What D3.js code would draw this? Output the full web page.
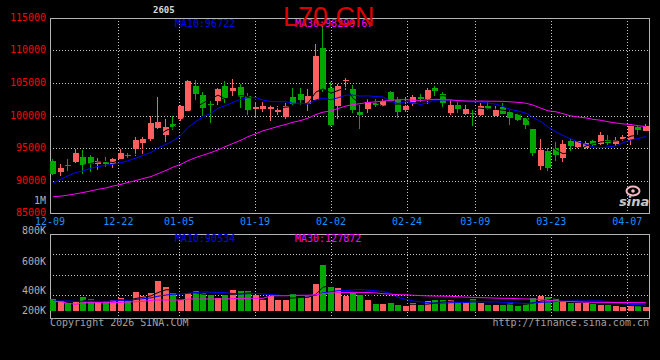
<!DOCTYPE html>
<meta charset="utf-8">
<style>
  body { margin: 0; background: #000; }
  text { font-family: "DejaVu Sans Mono", monospace; font-size: 10px; }
</style>
<body>
<script src="https://cdn.jsdelivr.net/npm/d3@7"></script>
<script>

// daily bars, 12-09 .. 04-09
var opens = [93010,91330,92350,92860,93570,93570,92550,92910,92500,93420,
  93980,94800,95820,96330,98110,96940,98620,99390,100820,104590,
  103170,101750,102260,104590,103680,104440,103020,100990,100940,101040,
  100480,99820,102870,103380,101850,102510,110380,104290,101500,105200,
  104130,100510,100920,101940,101530,103670,102450,100920,101840,102860,
  102600,104280,103370,100510,101680,100310,100410,100150,101530,100050,
  101340,100570,100160,99540,97990,92280,94590,95010,93560,96040,
  95160,95010,96140,95670,96290,95670,96290,96190,98200,97730];
var highs = [93270,92500,93270,94800,94650,93880,93470,93630,93420,94800,
  94290,96740,96630,100000,102810,99390,99900,101580,105510,105510,
  103680,102160,104290,105310,105660,104900,103530,102010,102010,101650,
  101500,101850,104190,104190,104040,110990,113830,105150,104900,105810,
  104740,101580,102550,102600,102600,103830,102810,102810,103210,103370,
  104230,104590,103620,102350,102090,101680,100920,101940,102090,101430,
  101950,100820,100410,99640,97990,96450,95010,95930,96290,96450,
  96140,96040,96290,97430,97070,96700,97070,98460,98460,98760];
var lows = [90820,90720,91480,92660,90970,91330,91640,92100,91890,93270,
  93470,93780,94030,96070,97960,95920,97710,99030,100660,102350,
  99980,98810,101650,101850,103020,101140,100080,99620,100480,99210,
  100130,99470,101650,101650,100640,102460,103680,98450,99470,103880,
  100410,97860,100310,101280,101280,102190,99540,100510,101430,102090,
  101840,102860,101280,100150,100310,100050,98370,100000,100920,100000,
  100160,98610,99130,97990,93720,91660,91400,92950,92790,94590,
  95010,94850,95370,95520,95520,95370,96140,95520,97070,97580];
var closes = [90970,91890,92250,94190,92350,92500,92960,92660,93320,94290,
  93880,96180,96380,98780,98980,98160,98220,101430,105360,103420,
  101140,101600,104140,102610,104190,102870,100840,101350,101450,101350,
  100840,101500,101850,102510,103020,109210,103880,98550,104540,105410,
  100920,100100,102040,101580,102300,102350,100610,101530,102860,102600,
  103980,103880,102040,101680,101070,101070,100260,101530,101070,100920,
  100310,99640,99280,98510,94340,94750,92020,93870,95670,95260,
  96040,95780,95520,97070,95780,96290,96650,98350,97730,98460];
var volumes = [158,138,122,128,178,158,132,135,148,171,
  138,227,191,217,336,277,217,148,217,237,
  214,198,171,194,247,237,237,194,148,188,
  148,148,207,181,188,306,494,280,267,188,
  214,198,148,109,109,119,99,89,115,99,
  138,148,148,148,128,115,158,115,99,99,
  99,128,89,115,168,188,174,168,128,122,
  115,115,109,99,99,89,82,95,89,82].map(function(v) { return v * 1000; });

// averages before the window starts
var ma10Head = [89600,90210,90720,91230,91480,91890,92150,92350,92500];
var ma30Head = [87500,87600,87750,87950,88150,88400,88650,88850,89150,89400,
  89700,90000,90300,90600,91050,91550,92050,92500,93050,93550,
  93900,94300,94700,95200,95700,96200,96750,97200,97650];
var volMa10Head = [138000,138000,138000,135000,135000,135000,135000,135000,138000];
var volMa30Head = [132000,132000,115000,105000,122000,122000,122000,122000,122000,125000,
  128000,132000,135000,145000,148000,148000,148000,148000,158000,158000,
  158000,158000,158000,158000,161000,165000,165000,165000,165000];

var dateLabels = ["12-09","12-22","01-05","01-19","02-02","02-24","03-09","03-23","04-07"];
var dateIndex = [0,9,17,27,37,47,56,66,76];
var priceTicks = [115000,110000,105000,100000,95000,90000,85000];
var volTicks = ["800K","600K","400K","200K"];
var legendPrice = ["MA10:96722", "MA30:98299.67"];
var legendVol = ["MA10:90534", "MA30:127872"];

var red = "#ff5f5f", green = "#00a800";
var gridColor = "#c8c8c8";

var left = 50, right = 650;
var priceTop = 18, priceBottom = 213;
var volTop = 234, volBottom = 318;

var svg = d3.select("body").append("svg")
  .attr("width", 660)
  .attr("height", 360);

svg.append("rect").attr("width", 660).attr("height", 360).attr("fill", "#000");

var cx = d3.scaleLinear().domain([0, closes.length]).range([left, right]);
var dx = d3.scaleLinear().domain([0, 79]).range([left, right]);
var y = d3.scaleLinear().domain([85000, 115000]).range([priceBottom, priceTop]);
var vy = d3.scaleLinear().domain([0, 800000]).range([315, volTop]);
var volBase = vy(0) - 4;

function movingAvg(values, n, head) {
  return values.map(function(v, i) {
    if (i < n - 1) return head ? head[i] : null;
    return d3.mean(values.slice(i - n + 1, i + 1));
  });
}

var ma5 = movingAvg(closes, 5), ma10 = movingAvg(closes, 10, ma10Head), ma30 = movingAvg(closes, 30, ma30Head);
var vma5 = movingAvg(volumes, 5), vma10 = movingAvg(volumes, 10, volMa10Head), vma30 = movingAvg(volumes, 30, volMa30Head);

function px(i) { return Math.round(cx(i)); }
function isUp(i) { return closes[i] >= opens[i]; }

// grid
var grid = svg.append("g")
  .attr("stroke", gridColor)
  .attr("stroke-dasharray", "1,2")
  .attr("shape-rendering", "crispEdges");

grid.selectAll("line.h")
  .data(priceTicks.slice(1, -1))
  .enter().append("line")
  .attr("x1", left).attr("x2", right)
  .attr("y1", function(d) { return Math.round(y(d)) + 0.5; })
  .attr("y2", function(d) { return Math.round(y(d)) + 0.5; });

grid.selectAll("line.vh")
  .data([600000, 400000, 200000])
  .enter().append("line")
  .attr("x1", left).attr("x2", right)
  .attr("y1", function(d) { return Math.round(vy(d)) + 0.5; })
  .attr("y2", function(d) { return Math.round(vy(d)) + 0.5; });

dateIndex.slice(1).forEach(function(k) {
  var x = Math.round(dx(k)) + 0.5;
  grid.append("line").attr("x1", x).attr("x2", x).attr("y1", priceTop).attr("y2", priceBottom);
  grid.append("line").attr("x1", x).attr("x2", x).attr("y1", volTop).attr("y2", volBottom);
});

// panel frames
svg.append("rect")
  .attr("x", left + 0.5).attr("y", priceTop + 0.5)
  .attr("width", right - left - 1).attr("height", priceBottom - priceTop)
  .attr("fill", "none").attr("stroke", "#b4b4b4");
svg.append("rect")
  .attr("x", left + 0.5).attr("y", volTop + 0.5)
  .attr("width", right - left - 1).attr("height", volBottom - volTop)
  .attr("fill", "none").attr("stroke", "#b4b4b4");

// candles
var candles = svg.append("g").attr("shape-rendering", "crispEdges");
candles.selectAll("line")
  .data(closes)
  .enter().append("line")
  .attr("x1", function(d, i) { return px(i) + 2.5; })
  .attr("x2", function(d, i) { return px(i) + 2.5; })
  .attr("y1", function(d, i) { return Math.round(y(highs[i])); })
  .attr("y2", function(d, i) { return Math.round(y(lows[i])); })
  .attr("stroke", function(d, i) { return isUp(i) ? red : green; });

candles.selectAll("rect")
  .data(closes)
  .enter().append("rect")
  .attr("x", function(d, i) { return px(i); })
  .attr("width", 6)
  .attr("y", function(d, i) { return Math.round(y(Math.max(opens[i], d))); })
  .attr("height", function(d, i) { return Math.max(1, Math.round(Math.abs(y(opens[i]) - y(d)))); })
  .attr("fill", function(d, i) { return isUp(i) ? red : green; });

// volume bars
svg.append("g").attr("shape-rendering", "crispEdges")
  .selectAll("rect")
  .data(volumes)
  .enter().append("rect")
  .attr("x", function(d, i) { return px(i); })
  .attr("width", 6)
  .attr("y", function(d) { return Math.round(vy(d)); })
  .attr("height", function(d) { return volBase - Math.round(vy(d)); })
  .attr("fill", function(d, i) { return isUp(i) ? red : green; });

// average lines
function drawLine(values, scale, color) {
  var line = d3.line()
    .defined(function(d) { return d != null; })
    .x(function(d, i) { return px(i) + 3; })
    .y(function(d) { return scale(d); });
  svg.append("path")
    .datum(values)
    .attr("d", line)
    .attr("fill", "none")
    .attr("stroke", color)
    .attr("stroke-width", 1);
}
drawLine(ma5, y, "#000");
drawLine(ma10, y, "#0000ff");
drawLine(ma30, y, "#ff00ff");
drawLine(vma5, vy, "#000");
drawLine(vma10, vy, "#0000ff");
drawLine(vma30, vy, "#ff00ff");

// price axis labels
svg.selectAll("text.price")
  .data(priceTicks)
  .enter().append("text")
  .attr("x", 46)
  .attr("y", function(d) { return Math.round(y(d)) + 3; })
  .attr("text-anchor", "end")
  .attr("fill", "#ff0000")
  .text(function(d) { return d; });

svg.append("text").attr("x", 46).attr("y", 204).attr("text-anchor", "end")
  .attr("fill", "#b0b0b0").text("1M");

// volume axis labels (Sina places them unevenly)
var volLabelY = [234, 265, 294, 314];
svg.selectAll("text.vol")
  .data(volTicks)
  .enter().append("text")
  .attr("x", 46)
  .attr("y", function(d, i) { return volLabelY[i]; })
  .attr("text-anchor", "end")
  .attr("fill", "#b0b0b0")
  .text(function(d) { return d; });

// dates
svg.selectAll("text.date")
  .data(dateLabels)
  .enter().append("text")
  .attr("x", function(d, i) { return dx(dateIndex[i]); })
  .attr("y", 225)
  .attr("text-anchor", "middle")
  .attr("fill", "#1a90ff")
  .text(function(d) { return d; });

// legends
var legendColors = ["#0000ff", "#ff00ff"];
var legendX = [175, 295];
legendPrice.forEach(function(t, i) {
  svg.append("text").attr("x", legendX[i]).attr("y", 27).attr("fill", legendColors[i]).text(t);
});
legendVol.forEach(function(t, i) {
  svg.append("text").attr("x", legendX[i]).attr("y", 242).attr("fill", legendColors[i]).text(t);
});

// title
svg.append("text")
  .attr("x", 283).attr("y", 26)
  .attr("fill", "#dd0000")
  .style("font-family", "'Liberation Sans', Arial, sans-serif")
  .style("font-size", "27px")
  .text("L70.CN");

svg.append("text").attr("x", 153).attr("y", 13)
  .attr("fill", "#d8d8d8").style("font-size", "9px").style("font-weight", "bold")
  .text("2605");

// footer
svg.append("text").attr("x", 50).attr("y", 326).attr("fill", "#a0a0a0")
  .text("Copyright 2026 SINA.COM");
svg.append("text").attr("x", 649).attr("y", 326).attr("text-anchor", "end").attr("fill", "#a0a0a0")
  .text("http://finance.sina.com.cn");

// sina mark
var logo = svg.append("g");
logo.append("ellipse").attr("cx", 633).attr("cy", 191).attr("rx", 6.5).attr("ry", 4.5)
  .attr("fill", "none").attr("stroke", "#f4b8c4").attr("stroke-width", 2);
logo.append("circle").attr("cx", 633).attr("cy", 191).attr("r", 1.8).attr("fill", "#f4b8c4");
logo.append("text").attr("x", 619).attr("y", 206)
  .attr("fill", "#c8c8c8")
  .style("font-family", "'DejaVu Sans', sans-serif")
  .style("font-size", "13px").style("font-style", "italic").style("font-weight", "bold")
  .text("sina");

</script>
</body>
